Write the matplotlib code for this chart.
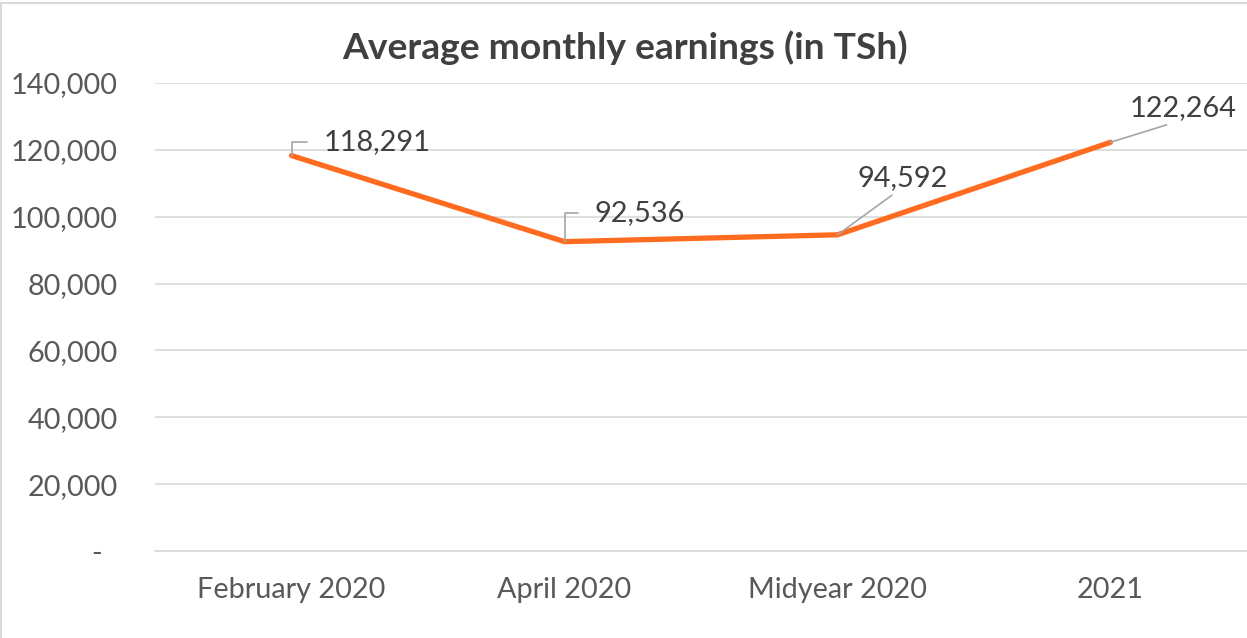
import matplotlib
matplotlib.use("Agg")
import matplotlib.pyplot as plt
from matplotlib.lines import Line2D
from matplotlib.ticker import FuncFormatter

plt.rcParams['font.family'] = ['Lato', 'DejaVu Sans']

periods = ["February 2020", "April 2020", "Midyear 2020", "2021"]
earnings = [118291, 92536, 94592, 122264]

# label offsets in pixels from each point, leader style
label_offsets = [(86, 14), (75, 29), (65, 57), (73, 34)]
leader_kind = ["elbow", "elbow", "straight", "straight"]

fig = plt.figure(figsize=(12.47, 6.38), dpi=100)
ax = fig.add_axes([155 / 1247, 1 - 551 / 638, 1 - 155 / 1247, (551 - 83) / 638])

x = list(range(len(periods)))
ax.plot(x, earnings, color='#FF6B1F', lw=3.8, solid_capstyle='round', zorder=3)

ax.set_xlim(-0.5, 3.5)
ax.set_ylim(0, 140000)
ax.set_yticks(range(0, 140001, 20000))
ax.yaxis.set_major_formatter(FuncFormatter(lambda v, p: "-  " if v == 0 else f"{int(v):,}"))
ax.set_xticks(x)
ax.set_xticklabels(periods)

ax.grid(axis='y', color='#D9D9D9', lw=1.2, zorder=0)
for s in ['top', 'right', 'left']:
    ax.spines[s].set_visible(False)
ax.spines['bottom'].set_color('#D9D9D9')
ax.spines['bottom'].set_linewidth(1.2)
ax.tick_params(axis='both', length=0, labelsize=20.8, labelcolor='#595959')
ax.tick_params(axis='y', pad=27)
ax.tick_params(axis='x', pad=19)

for xi, val, off, kind in zip(x, earnings, label_offsets, leader_kind):
    if kind == "elbow":
        ap = dict(arrowstyle='-', color='#A6A6A6', lw=1.2,
                  connectionstyle='angle,angleA=0,angleB=90,rad=0',
                  relpos=(0, 0.5), shrinkA=10, shrinkB=0)
    else:
        ap = dict(arrowstyle='-', color='#A6A6A6', lw=1.2,
                  relpos=(0.45, 0.0), shrinkA=2, shrinkB=0)
    ax.annotate(f"{val:,}", xy=(xi, val), xytext=off, textcoords='offset pixels',
                ha='center', va='center', fontsize=20.8, color='#404040',
                arrowprops=ap, zorder=4, annotation_clip=False)

fig.text(625 / 1247, 1 - 48 / 638, "Average monthly earnings (in TSh)", ha='center', va='center',
         fontsize=26.8, fontweight='bold', color='#404040')

# outer chart border (top and left visible)
fig.add_artist(Line2D([0.001, 0.001], [0, 0.995], transform=fig.transFigure, color='#D9D9D9', lw=1.5))
fig.add_artist(Line2D([0, 1], [0.995, 0.995], transform=fig.transFigure, color='#D9D9D9', lw=1.5))

fig.savefig("out.png", dpi=100)
